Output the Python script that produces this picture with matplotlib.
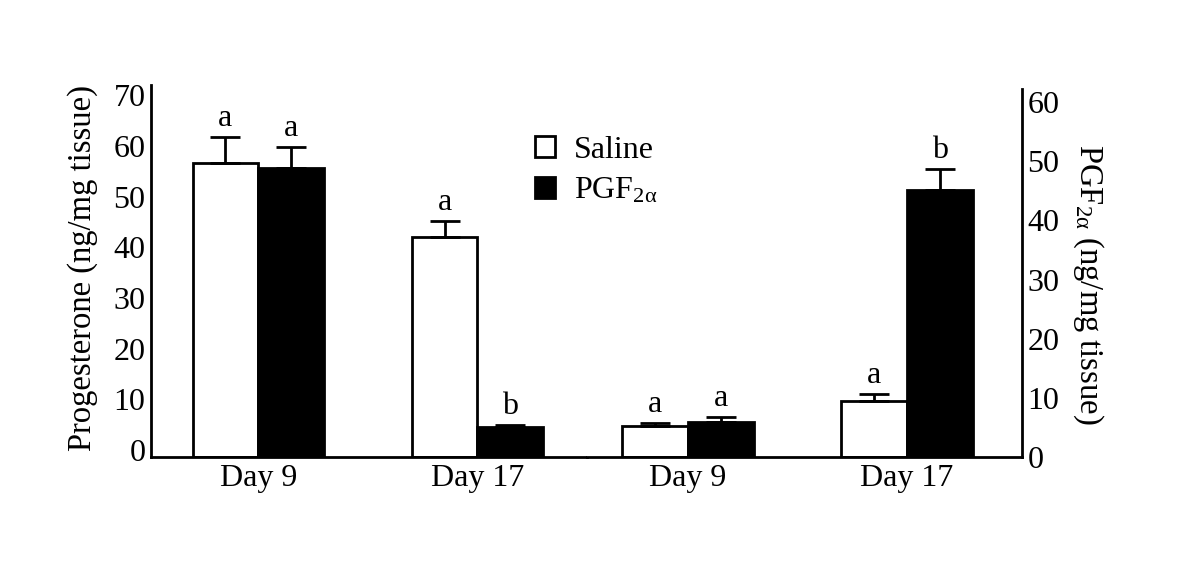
import numpy as np
import matplotlib
matplotlib.use("Agg")
import matplotlib.pyplot as plt
import matplotlib.transforms as mtransforms
from matplotlib.patches import Patch

plt.rcParams['font.family'] = ['Liberation Serif', 'DejaVu Serif']
plt.rcParams['mathtext.fontset'] = 'custom'
plt.rcParams['mathtext.rm'] = 'Liberation Serif'
plt.rcParams['mathtext.it'] = 'Liberation Serif'

FS = 23

# progesterone panel (left axis)
prog_days = ['Day 9', 'Day 17']
prog_saline = [58.0, 43.4]
prog_saline_err = [5.1, 3.2]
prog_pgf = [57.0, 5.9]
prog_pgf_err = [4.1, 0.4]
prog_saline_letters = ['a', 'a']
prog_pgf_letters = ['a', 'b']

# PGF2a panel (right axis)
pgf_days = ['Day 9', 'Day 17']
pgf_saline = [5.2, 9.5]
pgf_saline_err = [0.6, 1.1]
pgf_pgf = [5.9, 45.1]
pgf_pgf_err = [0.8, 3.5]
pgf_saline_letters = ['a', 'a']
pgf_pgf_letters = ['a', 'b']

W, H = 1198, 564
fig = plt.figure(figsize=(W / 100, H / 100), dpi=100)

ax1 = fig.add_axes([151 / W, 1 - 457 / H, 436 / W, 372 / H])
ax2 = fig.add_axes([587 / W, 1 - 457 / H, 435 / W, 368 / H])

bw = 0.30


def draw(ax, days, sal, sal_err, pgf, pgf_err, sal_let, pgf_let):
    x = np.arange(len(days))
    ekw = dict(lw=2, capsize=11, capthick=2, ecolor='black')
    ax.bar(x - bw / 2, sal, bw, color='white', edgecolor='black', lw=2,
           yerr=[np.zeros(len(sal)), sal_err], error_kw=ekw, zorder=2)
    ax.bar(x + bw / 2, pgf, bw, color='black', edgecolor='black', lw=2,
           yerr=[np.zeros(len(pgf)), pgf_err], error_kw=ekw, zorder=2)
    for i in range(len(days)):
        ax.annotate(sal_let[i], (x[i] - bw / 2, sal[i] + sal_err[i]),
                    xytext=(0, 3), textcoords='offset points',
                    ha='center', va='bottom', fontsize=FS)
        ax.annotate(pgf_let[i], (x[i] + bw / 2, pgf[i] + pgf_err[i]),
                    xytext=(0, 3), textcoords='offset points',
                    ha='center', va='bottom', fontsize=FS)
    ax.set_xticks(x)
    ax.set_xticklabels(days, fontsize=FS)
    ax.tick_params(axis='both', length=0, labelsize=FS)
    ax.tick_params(axis='x', pad=5)
    ax.spines['top'].set_visible(False)
    for s in ax.spines.values():
        s.set_linewidth(2)


draw(ax1, prog_days, prog_saline, prog_saline_err, prog_pgf, prog_pgf_err,
     prog_saline_letters, prog_pgf_letters)
draw(ax2, pgf_days, pgf_saline, pgf_saline_err, pgf_pgf, pgf_pgf_err,
     pgf_saline_letters, pgf_pgf_letters)

ax1.set_xlim(-0.49, 1.50)
ax1.set_ylim(0, 73.4)
ax1.set_yticks(np.arange(0, 71, 10))
ax1.spines['right'].set_visible(False)
ax1.tick_params(axis='y', pad=4)
# left labels sit a little above their values in the original
shift = mtransforms.ScaledTranslation(0, 7 / 100, fig.dpi_scale_trans)
for lab in ax1.get_yticklabels():
    lab.set_transform(lab.get_transform() + shift)

ax2.set_xlim(-0.46, 1.525)
ax2.set_ylim(0, 62.2)
ax2.set_yticks(np.arange(0, 61, 10))
ax2.spines['left'].set_visible(False)
ax2.yaxis.tick_right()
ax2.tick_params(axis='y', pad=4)

fig.text(83 / W, 1 - 268 / H, 'Progesterone (ng/mg tissue)', rotation=90,
         ha='center', va='center', fontsize=FS + 0.5)
fig.text(1088 / W, 1 - 284 / H, r'PGF$_{\mathrm{2α}}$ (ng/mg tissue)',
         rotation=-90, ha='center', va='center', fontsize=FS + 0.5)

handles = [Patch(facecolor='white', edgecolor='black', lw=2),
           Patch(facecolor='black', edgecolor='black', lw=2)]
fig.legend(handles, ['Saline', r'PGF$_{\mathrm{2α}}$'], loc='upper left',
           bbox_to_anchor=(535 / W, 1 - 136 / H), frameon=False, fontsize=FS,
           handlelength=0.63, handleheight=0.63, handletextpad=0.6,
           labelspacing=0.35, borderpad=0, borderaxespad=0)

fig.savefig('out.png', dpi=100)
